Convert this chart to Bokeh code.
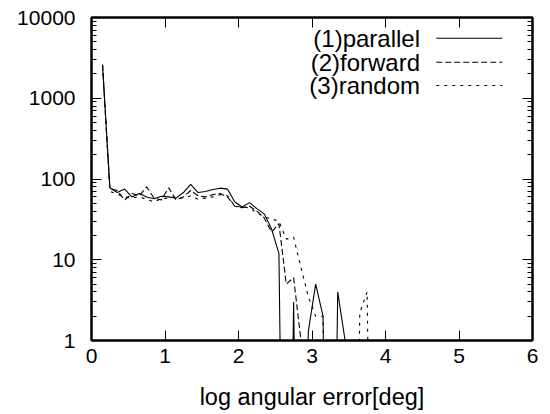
import numpy as np
from bokeh.plotting import figure
from bokeh.models import FixedTicker, LinearAxis, LogAxis, Label, Arrow, Range1d
from bokeh.embed import file_html
from bokeh.resources import INLINE

# bin centres (log angular error)
x_bins = [0.15, 0.25, 0.35, 0.45, 0.55, 0.65, 0.75, 0.85, 0.95, 1.05,
          1.15, 1.25, 1.35, 1.45, 1.55, 1.65, 1.75, 1.85, 1.95, 2.05,
          2.15, 2.25, 2.35, 2.45, 2.55, 2.65, 2.75, 2.85, 2.95, 3.05,
          3.15, 3.25, 3.35, 3.45, 3.55, 3.65, 3.75, 3.85, 3.95]

parallel = [2600, 78, 68, 75, 60, 66, 60, 57, 61, 60,
            58, 68, 86, 68, 70, 74, 77, 75, 52, 45,
            51, 43, 37, 24, 12, 0, 3, 0, 1.3, 5,
            2, 0, 4, 1, 0, 0, 0, 0, 0]
forward = [2600, 76, 72, 55, 66, 62, 80, 58, 55, 78,
           55, 60, 72, 62, 60, 64, 66, 60, 46, 44,
           46, 40, 33, 22, 28, 5, 6, 1, 0, 0,
           0, 0, 0, 0, 0, 0, 0, 0, 0]
random_ = [2600, 70, 65, 60, 58, 60, 56, 52, 57, 58,
           60, 58, 62, 56, 58, 60, 64, 62, 46, 45,
           44, 38, 34, 32, 30, 18, 19, 8, 3.5, 2,
           2, 0, 0, 0, 0, 2.2, 4, 0, 0]

series_labels = ["(1)parallel", "(2)forward", "(3)random"]
x_ticks = [0, 1, 2, 3, 4, 5, 6]
y_ticks = [1, 10, 100, 1000, 10000]
y_tick_labels = ["1", "10", "100", "1000", "10000"]
x_label = "log angular error[deg]"

FONT = "Liberation Sans"
FLOOR = 1e-6  # zero counts drawn far below the log axis


def for_log(vals):
    return [v if v > 0 else FLOOR for v in vals]


p = figure(width=550, height=414, x_range=Range1d(0, 6), y_range=Range1d(1, 10000),
           y_axis_type="log", output_backend="svg", toolbar_location=None,
           min_border_left=91, min_border_right=18, min_border_top=17, min_border_bottom=74)
p.background_fill_color = "white"
p.border_fill_color = "white"
p.xgrid.visible = False
p.ygrid.visible = False
p.outline_line_color = "black"
p.outline_line_width = 2

dashes = ["solid", "6 3", "3 5"]
data = [parallel, forward, random_]
for vals, dash in zip(data, dashes):
    p.line(x_bins, for_log(vals), line_color="black", line_width=1.1, line_dash=dash)

minor_y = [k * 10 ** e for e in range(4) for k in range(2, 10)]


def style_axis(ax, ticks, labels=None):
    ax.axis_line_color = "black"
    ax.axis_line_width = 2
    ax.major_tick_in = 10
    ax.major_tick_out = 0
    ax.minor_tick_in = 5
    ax.minor_tick_out = 0
    ax.major_tick_line_color = "black"
    ax.minor_tick_line_color = "black"
    ax.major_label_text_font = FONT
    ax.major_label_text_color = "black"
    ax.major_label_text_font_size = "21px"
    if labels is None:
        ax.major_label_overrides = {t: "" for t in ticks}
        ax.major_label_standoff = 0
    else:
        ax.major_label_overrides = {t: s for t, s in zip(ticks, labels)}


xa = p.xaxis[0]
xa.ticker = FixedTicker(ticks=x_ticks)
style_axis(xa, x_ticks, [str(t) for t in x_ticks])
xa.major_label_standoff = 8
xa.axis_label = x_label
xa.axis_label_text_font = FONT
xa.axis_label_text_font_size = "23.5px"
xa.axis_label_text_font_style = "normal"
xa.axis_label_text_color = "black"
xa.axis_label_standoff = 18

ya = p.yaxis[0]
ya.ticker = FixedTicker(ticks=y_ticks, minor_ticks=minor_y)
style_axis(ya, y_ticks, y_tick_labels)
ya.major_label_standoff = 16

top = LinearAxis(ticker=FixedTicker(ticks=x_ticks))
style_axis(top, x_ticks)
p.add_layout(top, "above")

right = LogAxis(ticker=FixedTicker(ticks=y_ticks, minor_ticks=minor_y))
style_axis(right, y_ticks)
p.add_layout(right, "right")

# legend: text right-aligned, sample line to the right (gnuplot style)
legend_text_x = 4.47
legend_line_x = (4.69, 5.59)
legend_rows_y = [5545, 2795, 1438]
for lab, dash, yy in zip(series_labels, dashes, legend_rows_y):
    p.add_layout(Label(x=legend_text_x, y=yy, text=lab, text_align="right",
                       text_baseline="middle", text_font=FONT,
                       text_font_size="24px", text_color="black"))
    p.add_layout(Arrow(end=None, x_start=legend_line_x[0], y_start=yy,
                       x_end=legend_line_x[1], y_end=yy, line_color="black",
                       line_width=1.1, line_dash=dash))

open("out.html", "w").write(file_html(p, INLINE))
